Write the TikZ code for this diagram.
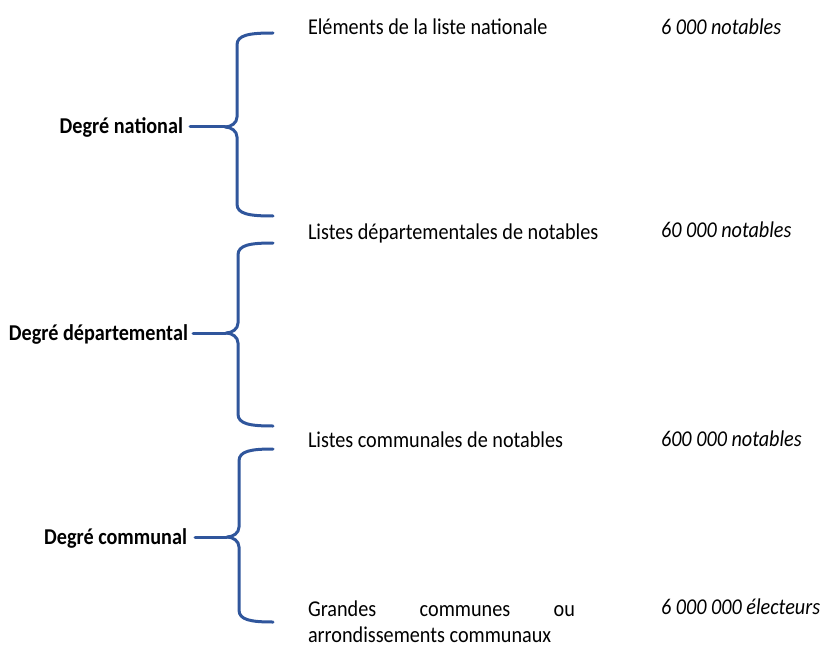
\documentclass[tikz,border=0pt]{standalone}
\usepackage{fontspec}
\usepackage{graphicx}
\setmainfont{Carlito}
\definecolor{braceblue}{RGB}{48,86,156}
\newcommand\vst[1]{\scalebox{1}[1.12]{#1}}
\newcommand\halfbraces[5]{% #1 vertical x, #2 top y, #3 tip y, #4 bottom y, #5 right x
  (#1-12,#3) .. controls (#1-6,#3) and (#1,#3-4) .. (#1,#3-10)
  -- (#1,#2+12) .. controls (#1,#2+2) and (#1+12,#2) .. (#5,#2)
  (#1-12,#3) .. controls (#1-6,#3) and (#1,#3+4) .. (#1,#3+10)
  -- (#1,#4-12) .. controls (#1,#4-2) and (#1+12,#4) .. (#5,#4)}
\begin{document}
\begin{tikzpicture}[x=1pt,y=-1pt,
  txt/.style={inner sep=0pt,outer sep=0pt,anchor=base west,font=\fontsize{20.2}{25}\selectfont},
  num/.style={txt,font=\fontsize{20.2}{25}\selectfont\itshape},
  deg/.style={inner sep=0pt,outer sep=0pt,anchor=base east,font=\fontsize{20.2}{25}\selectfont\bfseries},
  bracestyle/.style={draw=braceblue,line width=3pt,line cap=round,line join=round}]
\useasboundingbox (0,0) rectangle (824,650);
% labels
\node[txt] (l1) at (308,35) {\vst{Eléments de la liste nationale}};
\node[num] (n1) at (661,35) {\vst{6 000 notables}};
\node[txt] (l2) at (308,239) {\vst{Listes départementales de notables}};
\node[num] (n2) at (661,237) {\vst{60 000 notables}};
\node[txt] (l3) at (308,447) {\vst{Listes communales de notables}};
\node[num] (n3) at (661,446) {\vst{600 000 notables}};
\node[txt] (l4) at (308,616) {\vst{\makebox[267pt][s]{Grandes\hfill communes\hfill ou}}};
\node[txt] (l5) at (308,642) {\vst{arrondissements communaux}};
\node[num] (n4) at (661,614) {\vst{6 000 000 électeurs}};
\node[deg] (d1) at (183,134) {\vst{Degré national}};
\node[deg] (d2) at (188,340) {\vst{Degré départemental}};
\node[deg] (d3) at (187,544) {\vst{Degré communal}};
% brace tips and connector starts
\coordinate (s1) at (190,127); \coordinate (t1) at (225,127);
\coordinate (s2) at (193,333); \coordinate (t2) at (226,333);
\coordinate (s3) at (195,537); \coordinate (t3) at (227,537);
\draw[bracestyle] (s1) -- (t1);
\draw[bracestyle] (s2) -- (t2);
\draw[bracestyle] (s3) -- (t3);
\draw[bracestyle] \halfbraces{237}{33}{127}{216}{273};
\draw[bracestyle] \halfbraces{238}{243}{333}{426}{273};
\draw[bracestyle] \halfbraces{239}{449}{537}{622}{273};
\end{tikzpicture}
\end{document}
